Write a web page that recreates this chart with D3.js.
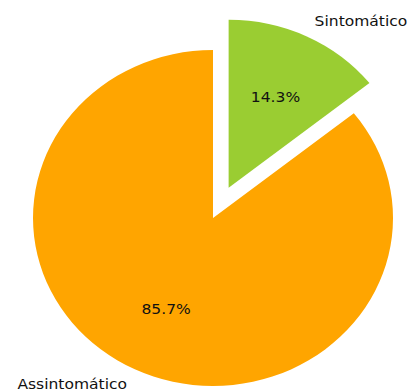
<!DOCTYPE html>
<html>
<head>
<meta charset="utf-8">
<script src="https://cdn.jsdelivr.net/npm/d3@7"></script>
<style>
  html, body { margin: 0; padding: 0; background: #fff; }
  svg { display: block; }
  text { font-family: "DejaVu Sans", sans-serif; fill: #111; }
</style>
</head>
<body>
<script>
// Categories and their shares (%)
const categories = ["Sintomático", "Assintomático"];
const shares = [14.3, 85.7];
const sliceColors = ["#9ACD32", "#FFA500"];
const explode = [0.2, 0];

const width = 413, height = 392;
const R = 168;                 // pie radius (vertical units)
const cx = 213, cy = 218;
const stretchX = 180 / 168;    // horizontal stretch of the figure

const svg = d3.select("body").append("svg")
  .attr("width", width)
  .attr("height", height);

const g = svg.append("g")
  .attr("transform", `translate(${cx},${cy}) scale(${stretchX},1)`);

const data = categories.map((c, i) => ({ name: c, value: shares[i], color: sliceColors[i], explode: explode[i] }));

const pie = d3.pie().value(d => d.value).sort(null).startAngle(0).endAngle(2 * Math.PI);
const arcs = pie(data);

const arc = d3.arc().innerRadius(0).outerRadius(R);

// unit direction of a slice's bisector (d3 angles: 0 at top, clockwise)
const dir = a => {
  const m = (a.startAngle + a.endAngle) / 2;
  return [Math.sin(m), -Math.cos(m)];
};

const slice = g.selectAll("g.slice")
  .data(arcs)
  .join("g")
  .attr("class", "slice")
  .attr("transform", a => {
    const [dx, dy] = dir(a);
    const off = a.data.explode * R;
    return `translate(${dx * off},${dy * off})`;
  });

slice.append("path")
  .attr("d", arc)
  .attr("fill", a => a.data.color);

// percentage labels at 0.6 R
slice.append("text")
  .attr("x", a => dir(a)[0] * 0.6 * R)
  .attr("y", a => dir(a)[1] * 0.6 * R)
  .attr("text-anchor", "middle")
  .attr("dominant-baseline", "central")
  .attr("font-size", 14.5)
  .text(a => a.data.value.toFixed(1) + "%");

// category labels at 1.1 R
slice.append("text")
  .attr("x", a => dir(a)[0] * 1.1 * R)
  .attr("y", a => dir(a)[1] * 1.1 * R)
  .attr("text-anchor", a => dir(a)[0] >= 0 ? "start" : "end")
  .attr("dominant-baseline", "central")
  .attr("font-size", 14.5)
  .text(a => a.data.name);
</script>
</body>
</html>
